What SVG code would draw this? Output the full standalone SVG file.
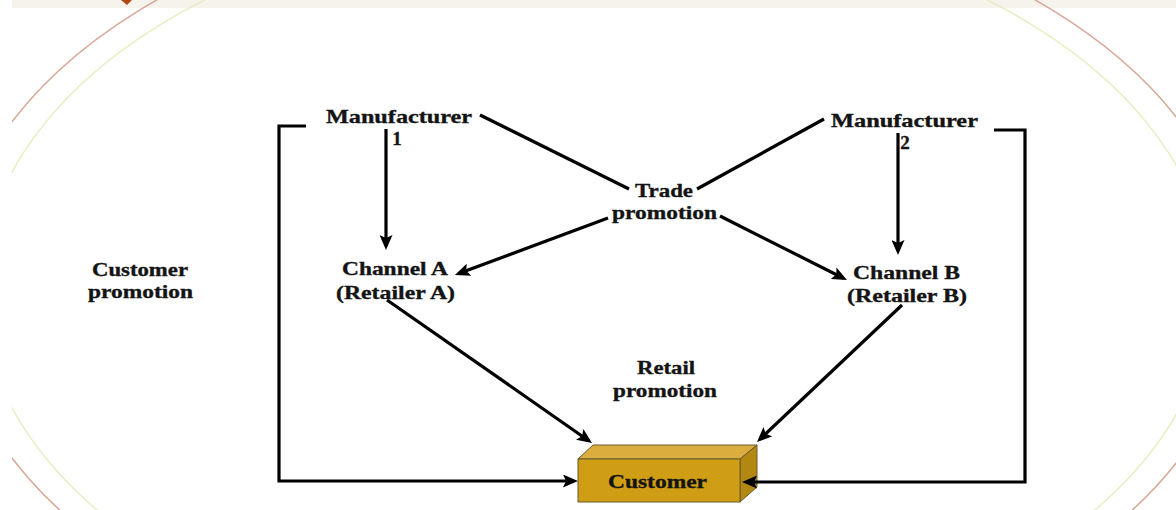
<svg xmlns="http://www.w3.org/2000/svg" width="1176" height="510" viewBox="0 0 1176 510">
  <style>
    .t { font-family: "Liberation Serif", "Times New Roman", serif; font-weight: bold; font-size: 19px; fill: #141414; stroke: #141414; stroke-width: 0.35; }
    .ln { stroke: #000; stroke-width: 3.2; fill: none; }
    .arr { marker-end: url(#ah); }
  </style>
  <defs>
    <marker id="ah" markerUnits="userSpaceOnUse" markerWidth="15" markerHeight="13" refX="11" refY="6.5" orient="auto">
      <path d="M0,0 L15,6.5 L0,13 L3,6.5 z" fill="#000"/>
    </marker>
  </defs>

  <rect x="0" y="0" width="1176" height="510" fill="#ffffff"/>
  <g id="background">
    <rect x="12" y="0" width="1164" height="8" fill="#f6f3ec"/>
    <path d="M121,0 L132,0 L127,5 Z" fill="#b04a18"/>
    <ellipse cx="596" cy="290" rx="645" ry="396" fill="none" stroke="#d6a898" stroke-width="1.5"/>
    <ellipse cx="596" cy="290" rx="615" ry="376" fill="none" stroke="#e8edc4" stroke-width="1.5"/>
    <rect x="0" y="0" width="12" height="510" fill="#ffffff"/>
  </g>

  <g id="manufacturer1">
    <text class="t" x="326" y="123" textLength="146" lengthAdjust="spacingAndGlyphs">Manufacturer</text>
    <text class="t" x="397" y="145" text-anchor="middle">1</text>
  </g>
  <g id="manufacturer2">
    <text class="t" x="831" y="127" textLength="147" lengthAdjust="spacingAndGlyphs">Manufacturer</text>
    <text class="t" x="905" y="149" text-anchor="middle">2</text>
  </g>
  <g id="trade-promotion">
    <text class="t" x="635" y="197" textLength="58" lengthAdjust="spacingAndGlyphs">Trade</text>
    <text class="t" x="612" y="219" textLength="105" lengthAdjust="spacingAndGlyphs">promotion</text>
  </g>
  <g id="channelA">
    <text class="t" x="342" y="275" textLength="106" lengthAdjust="spacingAndGlyphs">Channel A</text>
    <text class="t" x="336" y="299" textLength="119" lengthAdjust="spacingAndGlyphs">(Retailer A)</text>
  </g>
  <g id="channelB">
    <text class="t" x="853" y="279" textLength="107" lengthAdjust="spacingAndGlyphs">Channel B</text>
    <text class="t" x="847" y="302" textLength="120" lengthAdjust="spacingAndGlyphs">(Retailer B)</text>
  </g>
  <g id="customer-promotion">
    <text class="t" x="92" y="276" textLength="96" lengthAdjust="spacingAndGlyphs">Customer</text>
    <text class="t" x="88" y="298" textLength="105" lengthAdjust="spacingAndGlyphs">promotion</text>
  </g>
  <g id="retail-promotion">
    <text class="t" x="637" y="374" textLength="58" lengthAdjust="spacingAndGlyphs">Retail</text>
    <text class="t" x="613" y="397" textLength="104" lengthAdjust="spacingAndGlyphs">promotion</text>
  </g>
  <g id="customer">
    <polygon points="578,459 593,445 757,445 740,459" fill="#dbad3e" stroke="#6b5b2e" stroke-width="1"/>
    <polygon points="740,459 757,445 757,487 740,502" fill="#b38810" stroke="#6b5b2e" stroke-width="1"/>
    <rect x="578" y="459" width="162" height="43" fill="#cf9e14" stroke="#6b5b2e" stroke-width="1"/>
    <text class="t" x="608" y="488" textLength="99" lengthAdjust="spacingAndGlyphs">Customer</text>
  </g>

  <g id="connectors">
    <line class="ln" x1="480" y1="115" x2="629" y2="189"/>
    <line class="ln" x1="824" y1="119" x2="697" y2="189"/>
    <line class="ln arr" x1="386" y1="129" x2="386" y2="246"/>
    <line class="ln arr" x1="898" y1="133" x2="898" y2="251"/>
    <line class="ln arr" x1="608" y1="218" x2="458.7" y2="273.6"/>
    <line class="ln arr" x1="720" y1="216" x2="843.4" y2="278.2"/>
    <line class="ln arr" x1="387" y1="300" x2="588.7" y2="440.7"/>
    <line class="ln arr" x1="902" y1="305" x2="759.9" y2="439.3"/>
    <path class="ln arr" d="M306,126 H279 V481 H574"/>
    <path class="ln arr" d="M994,130 H1025 V482 H746"/>
  </g>
</svg>
